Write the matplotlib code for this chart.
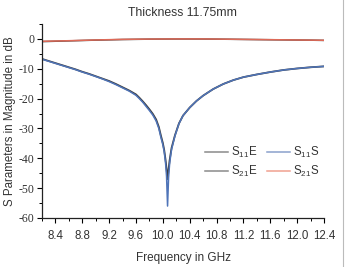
import matplotlib
matplotlib.use("Agg")
import matplotlib.pyplot as plt
from matplotlib.lines import Line2D

plt.rcParams['font.family'] = ['Liberation Sans', 'DejaVu Sans']
plt.rcParams['mathtext.default'] = 'regular'
plt.rcParams['axes.unicode_minus'] = False

# S11 (simulation), frequency in GHz / magnitude in dB
freq_s11 = [8.2, 8.3, 8.4, 8.5, 8.6, 8.7, 8.8, 8.9, 9.0, 9.1, 9.2, 9.3, 9.4, 9.5,
            9.6, 9.65, 9.7, 9.75, 9.8, 9.85, 9.9, 9.94, 9.97, 10.0, 10.02, 10.04,
            10.055, 10.07, 10.085, 10.1, 10.115, 10.13, 10.18, 10.24, 10.3, 10.4,
            10.5, 10.6, 10.75, 10.9, 11.05, 11.2, 11.4, 11.6, 11.8, 12.0, 12.2, 12.4]
s11s = [-6.8, -7.5, -8.2, -8.9, -9.6, -10.3, -11.1, -11.8, -12.6, -13.4, -14.3,
        -15.3, -16.4, -17.5, -18.9, -20.0, -21.2, -22.6, -24.0, -25.5, -27.5, -30.0,
        -32.9, -35.5, -37.8, -41.5, -46.0, -56.0, -46.5, -42.0, -39.3, -37.0, -32.5,
        -28.4, -25.7, -23.0, -20.8, -19.0, -16.8, -15.1, -13.8, -12.8, -11.9, -11.1,
        -10.4, -9.9, -9.5, -9.2]

# S11 (measurement)
s11e = [-6.7, -7.4, -8.1, -8.8, -9.5, -10.2, -11.0, -11.7, -12.5, -13.3, -14.1,
        -15.1, -16.2, -17.3, -18.6, -19.7, -20.9, -22.2, -23.6, -25.1, -27.0, -29.5,
        -32.3, -34.9, -37.2, -40.5, -43.5, -47.0, -43.8, -40.8, -38.6, -36.5, -32.3,
        -28.3, -25.7, -23.0, -20.8, -19.0, -16.8, -15.1, -13.8, -12.8, -11.9, -11.1,
        -10.4, -9.9, -9.5, -9.2]

# S21 (simulation / measurement)
freq_s21 = [8.2, 8.6, 9.0, 9.4, 9.8, 10.2, 10.6, 11.0, 11.4, 11.8, 12.2, 12.4]
s21s = [-0.8, -0.6, -0.35, -0.15, -0.05, 0.0, 0.0, -0.1, -0.2, -0.3, -0.4, -0.45]
s21e = [-0.9, -0.65, -0.4, -0.2, -0.08, -0.02, -0.03, -0.12, -0.22, -0.32, -0.42, -0.5]

xticks = [8.4, 8.8, 9.2, 9.6, 10.0, 10.4, 10.8, 11.2, 11.6, 12.0, 12.4]
yticks = [0, -10, -20, -30, -40, -50, -60]

fig = plt.figure(figsize=(3.46, 2.67), dpi=100)
ax = fig.add_axes([42 / 346, 1 - 218 / 267, 282 / 346, 194 / 267])

c_exp = '#3c3c3c'
c_blue = '#4f74b8'
c_red = '#de6a58'

ax.plot(freq_s21, s21e, color=c_exp, lw=1.1)
ax.plot(freq_s21, s21s, color=c_red, lw=1.1)
ax.plot(freq_s11, s11e, color=c_exp, lw=1.3)
ax.plot(freq_s11, s11s, color=c_blue, lw=1.1)

ax.set_xlim(8.2, 12.4)
ax.set_ylim(-60, 5)
ax.set_xticks(xticks)
ax.set_xticklabels([f"{t:.1f}" for t in xticks], fontsize=8.3, color='#333333')
ax.set_xticks([8.2 + 0.2 * i for i in range(22)], minor=True)
ax.set_yticks(yticks)
ax.set_yticklabels([str(t) for t in yticks], fontsize=8.5, family='Liberation Serif',
                   color='#333333')
ax.set_yticks(list(range(-60, 6, 5)), minor=True)
ax.tick_params(which='major', direction='out', length=3.5, width=0.8, pad=2)
ax.tick_params(which='minor', direction='out', length=2, width=0.7)
ax.tick_params(axis='x', pad=5)

for s in ['top', 'right']:
    ax.spines[s].set_visible(False)
for s in ['left', 'bottom']:
    ax.spines[s].set_linewidth(0.9)
    ax.spines[s].set_color('#222222')

ax.set_xlabel('Frequency in GHz', fontsize=8.5, color='#333333', labelpad=7)
ax.set_ylabel('S Parameters in Magnitude in dB', fontsize=8.3, color='#333333', labelpad=2)
ax.set_title('Thickness 11.75mm', fontsize=8.8, color='#333333', pad=6)

handles = [Line2D([], [], color='#8a8a8a', lw=1.1), Line2D([], [], color='#8a8a8a', lw=1.1),
           Line2D([], [], color='#8aa0cc', lw=1.1), Line2D([], [], color='#f0a090', lw=1.1)]
labels = ['S$_{11}$E', 'S$_{21}$E', 'S$_{11}$S', 'S$_{21}$S']
ax.legend(handles, labels, ncol=2, frameon=False, fontsize=8.3,
          loc='upper left', bbox_to_anchor=(0.54, 0.43),
          handlelength=2.0, handletextpad=0.3, columnspacing=0.8,
          labelspacing=0.35, labelcolor='#333333')

fig.add_artist(Line2D([0.992, 0.992], [0, 1], color='#bbbbbb', lw=0.8,
                      transform=fig.transFigure))

fig.savefig('out.png', dpi=100)
